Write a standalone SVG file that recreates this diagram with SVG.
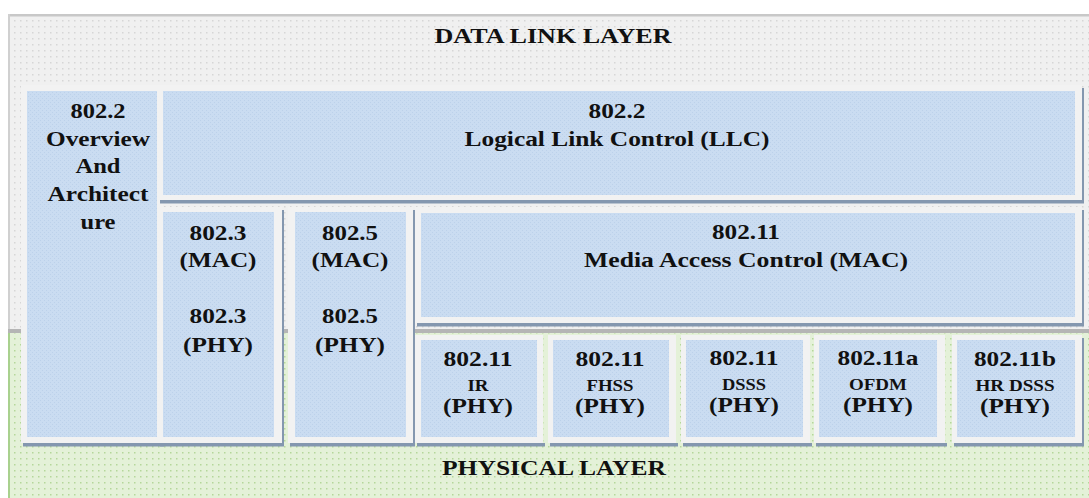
<svg xmlns="http://www.w3.org/2000/svg" width="1089" height="498" viewBox="0 0 1089 498">
<defs>
<pattern id="pg" width="6" height="6" patternUnits="userSpaceOnUse"><rect width="6" height="6" fill="#f0f0f0"/><rect x="2" y="2" width="1.5" height="1.5" fill="#d6d6d6"/></pattern>
<pattern id="pgr" width="6" height="6" patternUnits="userSpaceOnUse"><rect width="6" height="6" fill="#e4f1d8"/><rect x="2" y="2" width="1.5" height="1.5" fill="#b5d79a"/></pattern>
<pattern id="pb" width="4" height="4" patternUnits="userSpaceOnUse"><rect width="4" height="4" fill="#cadcf1"/><rect x="0" y="0" width="1" height="1" fill="#bcd1ea"/><rect x="2" y="2" width="1" height="1" fill="#bcd1ea"/></pattern>
<style>
.frame{fill:#f2f2f2}
.shadow{fill:#8497af}
.blue{fill:url(#pb)}
.t{font-size:22px}
.s{font-size:16px}
</style>
</defs>
<rect width="1089" height="498" fill="#ffffff"/>
<g font-family="Liberation Serif, Times New Roman, DejaVu Serif, serif" font-weight="bold" fill="#111111" text-anchor="middle">
<g id="data-link-layer">
<rect x="8" y="14" width="1081" height="319" fill="url(#pg)"/>
<rect x="8" y="14" width="1081" height="2.5" fill="#c8c8c8"/>
<rect x="8" y="14" width="2" height="319" fill="#d0d0d0"/>
<text class="t" x="553" y="43" textLength="237" lengthAdjust="spacingAndGlyphs">DATA LINK LAYER</text>
</g>
<g id="physical-layer">
<rect x="8" y="333" width="1081" height="165" fill="url(#pgr)"/>
<rect x="8" y="333" width="2" height="165" fill="#a9d18e"/>
<rect x="8" y="329" width="1081" height="4" fill="#b5b5b5"/>
<text class="t" x="554" y="475" textLength="224" lengthAdjust="spacingAndGlyphs">PHYSICAL LAYER</text>
</g>
<g id="overview">
<rect class="shadow" x="23" y="443" width="141" height="3.5"/>
<rect class="frame" x="21" y="85" width="142" height="358"/>
<rect class="blue" x="27" y="91" width="130" height="346"/>
<text class="t" x="98" y="118" textLength="55" lengthAdjust="spacingAndGlyphs">802.2</text>
<text class="t" x="98" y="146" textLength="104" lengthAdjust="spacingAndGlyphs">Overview</text>
<text class="t" x="98" y="173" textLength="45" lengthAdjust="spacingAndGlyphs">And</text>
<text class="t" x="98" y="201" textLength="101" lengthAdjust="spacingAndGlyphs">Architect</text>
<text class="t" x="98" y="229" textLength="35" lengthAdjust="spacingAndGlyphs">ure</text>
</g>
<g id="llc">
<rect class="shadow" x="160" y="200" width="924" height="3.5"/>
<rect class="shadow" x="1082" y="88" width="2" height="115"/>
<rect class="frame" x="157" y="85" width="925" height="115"/>
<rect class="blue" x="163" y="91" width="912" height="104"/>
<text class="t" x="617" y="118" textLength="57" lengthAdjust="spacingAndGlyphs">802.2</text>
<text class="t" x="617" y="146" textLength="305" lengthAdjust="spacingAndGlyphs">Logical Link Control (LLC)</text>
</g>
<g id="ieee-802-3">
<rect class="shadow" x="160" y="443" width="124" height="3.5"/>
<rect class="shadow" x="282" y="210" width="2" height="236"/>
<rect class="frame" x="158" y="207" width="124" height="236"/>
<rect class="blue" x="163" y="212" width="111" height="225"/>
<text class="t" x="218" y="240" textLength="57" lengthAdjust="spacingAndGlyphs">802.3</text>
<text class="t" x="218" y="267" textLength="77" lengthAdjust="spacingAndGlyphs">(MAC)</text>
<text class="t" x="218" y="323" textLength="57" lengthAdjust="spacingAndGlyphs">802.3</text>
<text class="t" x="218" y="352" textLength="70" lengthAdjust="spacingAndGlyphs">(PHY)</text>
</g>
<g id="ieee-802-5">
<rect class="shadow" x="290" y="443" width="125" height="3.5"/>
<rect class="shadow" x="413" y="210" width="2" height="236"/>
<rect class="frame" x="288" y="207" width="125" height="236"/>
<rect class="blue" x="295" y="212" width="111" height="225"/>
<text class="t" x="350" y="240" textLength="56" lengthAdjust="spacingAndGlyphs">802.5</text>
<text class="t" x="350" y="267" textLength="77" lengthAdjust="spacingAndGlyphs">(MAC)</text>
<text class="t" x="350" y="323" textLength="56" lengthAdjust="spacingAndGlyphs">802.5</text>
<text class="t" x="350" y="352" textLength="70" lengthAdjust="spacingAndGlyphs">(PHY)</text>
</g>
<g id="mac-802-11">
<rect class="shadow" x="417" y="323" width="667" height="3.5"/>
<rect class="shadow" x="1082" y="210" width="2" height="116"/>
<rect class="frame" x="415" y="207" width="667" height="116"/>
<rect class="blue" x="421" y="213" width="654" height="104"/>
<text class="t" x="746" y="239" textLength="68" lengthAdjust="spacingAndGlyphs">802.11</text>
<text class="t" x="746" y="267" textLength="324" lengthAdjust="spacingAndGlyphs">Media Access Control (MAC)</text>
</g>
<g id="phy-ir">
<rect class="shadow" x="417" y="443" width="128" height="3.5"/>
<rect class="frame" x="415" y="335" width="128" height="108"/>
<rect class="blue" x="421" y="340" width="116" height="97"/>
<text class="t" x="478" y="366" textLength="69" lengthAdjust="spacingAndGlyphs">802.11</text>
<text class="s" x="478" y="391" textLength="21" lengthAdjust="spacingAndGlyphs">IR</text>
<text class="t" x="478" y="413" textLength="70" lengthAdjust="spacingAndGlyphs">(PHY)</text>
</g>
<g id="phy-fhss">
<rect class="shadow" x="550" y="443" width="128" height="3.5"/>
<rect class="frame" x="548" y="335" width="128" height="108"/>
<rect class="blue" x="553" y="340" width="116" height="97"/>
<text class="t" x="610" y="366" textLength="69" lengthAdjust="spacingAndGlyphs">802.11</text>
<text class="s" x="610" y="391" textLength="47" lengthAdjust="spacingAndGlyphs">FHSS</text>
<text class="t" x="610" y="413" textLength="70" lengthAdjust="spacingAndGlyphs">(PHY)</text>
</g>
<g id="phy-dsss">
<rect class="shadow" x="683" y="443" width="129" height="3.5"/>
<rect class="frame" x="681" y="335" width="129" height="108"/>
<rect class="blue" x="686" y="340" width="117" height="97"/>
<text class="t" x="744" y="365" textLength="69" lengthAdjust="spacingAndGlyphs">802.11</text>
<text class="s" x="744" y="390" textLength="44" lengthAdjust="spacingAndGlyphs">DSSS</text>
<text class="t" x="744" y="412" textLength="70" lengthAdjust="spacingAndGlyphs">(PHY)</text>
</g>
<g id="phy-ofdm">
<rect class="shadow" x="816" y="443" width="131" height="3.5"/>
<rect class="frame" x="814" y="335" width="131" height="108"/>
<rect class="blue" x="819" y="340" width="118" height="97"/>
<text class="t" x="878" y="365" textLength="81" lengthAdjust="spacingAndGlyphs">802.11a</text>
<text class="s" x="878" y="390" textLength="58" lengthAdjust="spacingAndGlyphs">OFDM</text>
<text class="t" x="878" y="412" textLength="70" lengthAdjust="spacingAndGlyphs">(PHY)</text>
</g>
<g id="phy-hr-dsss">
<rect class="shadow" x="954" y="443" width="130" height="3.5"/>
<rect class="shadow" x="1082" y="338" width="2" height="108"/>
<rect class="frame" x="952" y="335" width="130" height="108"/>
<rect class="blue" x="957" y="340" width="118" height="97"/>
<text class="t" x="1015" y="366" textLength="82" lengthAdjust="spacingAndGlyphs">802.11b</text>
<text class="s" x="1015" y="391" textLength="79" lengthAdjust="spacingAndGlyphs">HR DSSS</text>
<text class="t" x="1015" y="413" textLength="70" lengthAdjust="spacingAndGlyphs">(PHY)</text>
</g>
<g id="connectors"></g>
</g>
</svg>
